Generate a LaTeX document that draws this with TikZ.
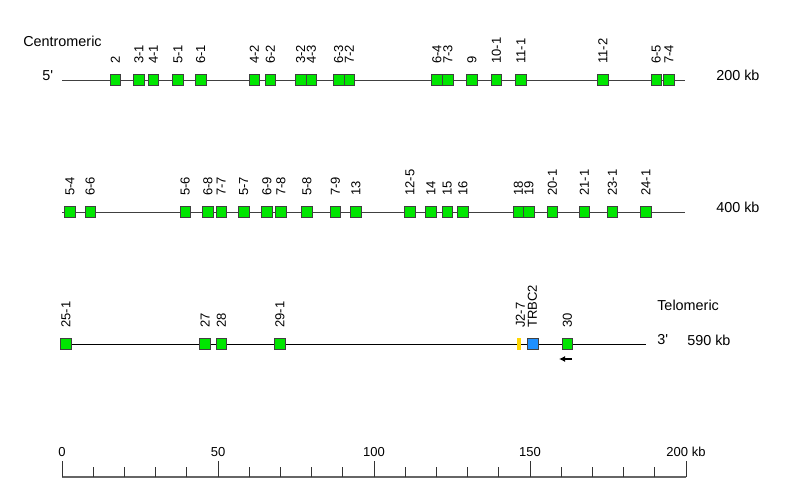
\documentclass[tikz,border=0pt]{standalone}
\usepackage{fontspec}
\setmainfont{Liberation Sans}[Ligatures=TeXOff]
\usetikzlibrary{arrows.meta}
\definecolor{genegreen}{RGB}{0,230,0}
\definecolor{geneblue}{RGB}{30,144,255}
\definecolor{geneyellow}{RGB}{255,215,0}
\tikzset{
	gene/.style={draw=black!75,fill=genegreen,minimum size=7.8pt,inner sep=0pt,line width=0.6pt},
	glabel/.style={rotate=90,anchor=west,inner sep=0pt,font=\fontsize{9.75}{11}\selectfont},
	txt/.style={anchor=west,inner sep=0pt,font=\fontsize{10.8}{12}\selectfont},
	chrom/.style={draw=black!75,line width=0.75pt},
	slabel/.style={inner sep=0pt,font=\fontsize{9.75}{11}\selectfont}
}
\begin{document}
\begin{tikzpicture}[x=0.75pt,y=-0.75pt]
	\useasboundingbox (0,0) rectangle (787,497);
	% first 200 kb
	\coordinate (a0) at (62,80); \coordinate (a1) at (685,80);
	\draw[chrom] (a0)--(a1);
	\node[txt] (cen) at (23,41) {Centromeric};
	\node[txt] (five) at (42,76) {5'};
	\node[txt] (kb200) at (716,75) {200 kb};
	\foreach \x/\t [count=\i] in {115.3/2,138.8/3-1,153.3/4-1,178/5-1,200.7/6-1,254.3/4-2,270.3/6-2,300.7/3-2,311.3/4-3,338.7/6-3,349.3/7-2,437/6-4,447.8/7-3,471.8/9,496.5/10-1,520.8/11-1,602.8/11-2,656.2/6-5,668.8/7-4}
		{\node[gene] (a-\i) at (\x,80) {}; \node[glabel] (la-\i) at (\x,64) {\t};}
	% 200 -- 400 kb
	\coordinate (b0) at (62,212); \coordinate (b1) at (685,212);
	\draw[chrom] (b0)--(b1);
	\node[txt] (kb400) at (716,207) {400 kb};
	\foreach \x/\t [count=\i] in {70/5-4,90.2/6-6,185.2/5-6,207.8/6-8,221.2/7-7,243.8/5-7,266.8/6-9,280.8/7-8,306.8/5-8,335.5/7-9,355.8/13,410/12-5,430.8/14,447.2/15,462.8/16,518.3/18,529/19,552.5/20-1,584.2/21-1,612.5/23-1,645.8/24-1}
		{\node[gene] (b-\i) at (\x,212) {}; \node[glabel] (lb-\i) at (\x,196) {\t};}
	% 400 -- 590 kb
	\coordinate (c0) at (62,344); \coordinate (c1) at (646,344);
	\draw[chrom,draw=black] (c0)--(c1);
	\node[txt] (tel) at (657,305) {Telomeric};
	\node[txt] (three) at (657,340) {3'};
	\node[txt] (kb590) at (687,340) {590 kb};
	\foreach \x/\t [count=\i] in {66/25-1,205/27,221.3/28,280/29-1,567.5/30}
		{\node[gene] (c-\i) at (\x,344) {}; \node[glabel] (lc-\i) at (\x,328) {\t};}
	\node[fill=geneyellow,minimum width=3pt,minimum height=8.7pt,inner sep=0pt] (j27) at (519.3,344) {};
	\node[gene,fill=geneblue] (trbc) at (533,344) {};
	\node[glabel] (lj27) at (520.5,328) {J2-7};
	\node[glabel] (ltrbc) at (532.5,328) {TRBC2};
	\coordinate (ar0) at (572,359); \coordinate (ar1) at (559,359);
	\draw[-{Latex[length=4.5pt,width=4.5pt]},line width=1.1pt] (ar0)--(ar1);
	% scale
	\coordinate (s0) at (62,477); \coordinate (s1) at (686,477);
	\draw[draw=black!60,line width=1.3pt] (s0)--(s1);
	\foreach \k in {0,...,20}
		\draw[black!80,line width=0.6pt] (62+31.2*\k,477)--(62+31.2*\k,466.5);
	\foreach \k/\t in {0/0,5/50,10/100,15/150,20/200 kb}
		{\draw[black!80,line width=0.6pt] (62+31.2*\k,477)--(62+31.2*\k,461);
		\node[slabel] (s-\k) at (62+31.2*\k,452) {\t};}
\end{tikzpicture}
\end{document}
